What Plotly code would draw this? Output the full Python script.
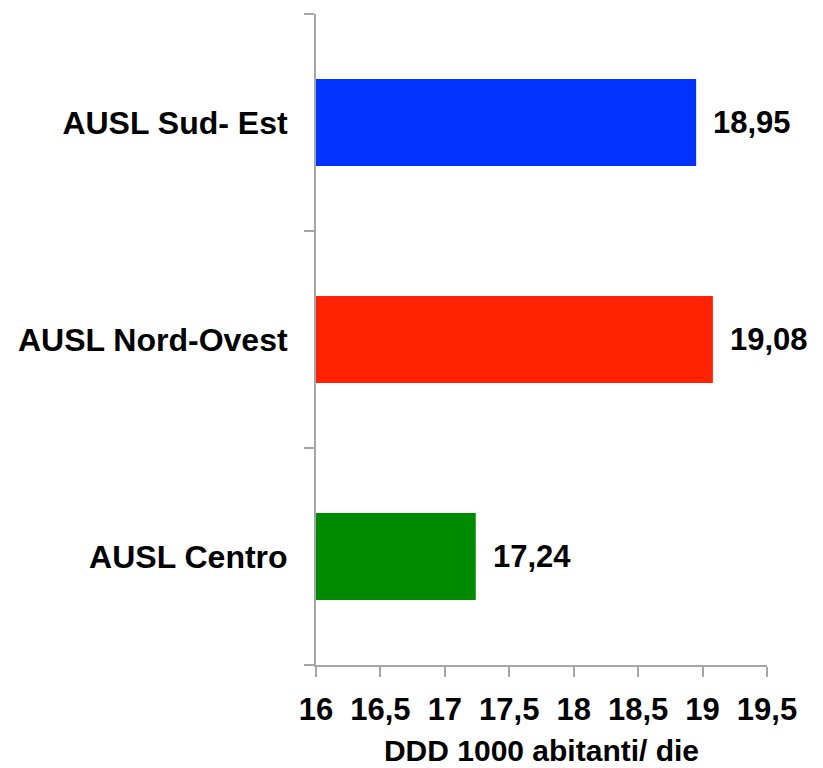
import plotly.graph_objects as go

categories = ["AUSL Centro", "AUSL Nord-Ovest", "AUSL Sud- Est"]
values = [17.24, 19.08, 18.95]
colors = ["#008A00", "#FF2200", "#0033FF"]
x_ticks = [16, 16.5, 17, 17.5, 18, 18.5, 19, 19.5]
x_title = "DDD 1000 abitanti/ die"

font_family = "Liberation Sans, Arial, sans-serif"

fig = go.Figure()
fig.add_trace(go.Bar(
    y=categories, x=[v - 16 for v in values], base=16,
    orientation="h", marker=dict(color=colors, line=dict(width=0)),
    width=0.4, hoverinfo="skip",
))

for c, v in zip(categories, values):
    fig.add_annotation(
        x=v, y=c, text=f"<b>{v:.2f}</b>".replace(".", ","),
        showarrow=False, xanchor="left", xshift=15,
        font=dict(family=font_family, size=31, color="black"),
    )

axis_font = dict(family=font_family, size=31, color="black")
fig.update_layout(
    width=823, height=768,
    margin=dict(l=308, r=64, t=6, b=111),
    plot_bgcolor="white", paper_bgcolor="white",
    showlegend=False,
    separators=", ",
    xaxis=dict(
        range=[16, 19.5], tickvals=x_ticks,
        ticktext=[f"<b>{t:g}</b>".replace(".", ",") for t in x_ticks],
        showgrid=False, zeroline=False, automargin=False,
        showline=True, linecolor="#A6A6A6", linewidth=2,
        ticks="outside", ticklen=10, tickwidth=2, tickcolor="#A6A6A6",
        tickfont=axis_font, ticklabelstandoff=6,
        title=dict(text=f"<b>{x_title}</b>", font=dict(family=font_family, size=30, color="black"), standoff=14),
    ),
    yaxis=dict(
        type="category", categoryorder="array", categoryarray=categories,
        range=[-0.5, 2.5],
        tickmode="array", tickvals=categories,
        ticktext=[f"<b>{c}</b>" for c in categories],
        showgrid=False, zeroline=False, automargin=False,
        showline=True, linecolor="#A6A6A6", linewidth=2,
        ticks="outside", tickson="boundaries", ticklen=10, tickwidth=2,
        tickcolor="#A6A6A6", tickfont=dict(family=font_family, size=32, color="black"),
        ticklabelstandoff=20,
    ),
)

fig.write_html("out.html")
